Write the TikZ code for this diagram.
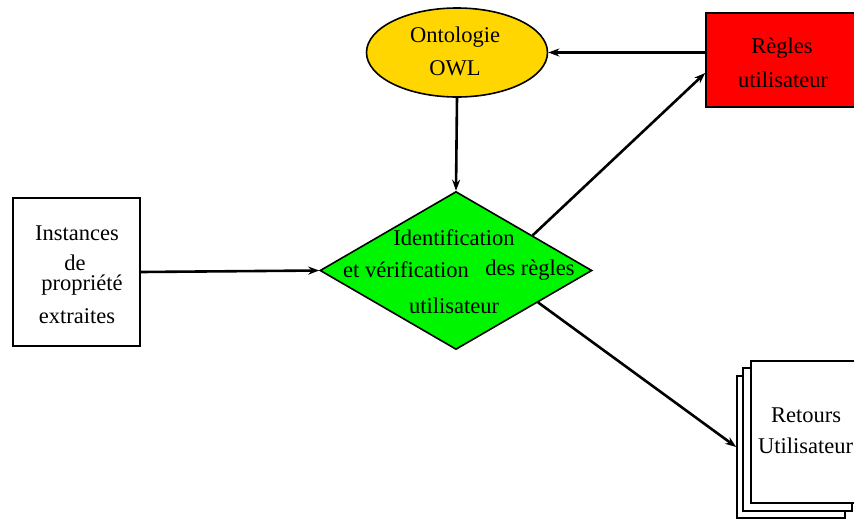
\documentclass[tikz,border=0pt]{standalone}
\usepackage{fontspec}
\setmainfont{Liberation Serif}
\usetikzlibrary{shapes.geometric,arrows.meta,calc}
\definecolor{owlgold}{RGB}{255,214,0}
\definecolor{ruleRed}{RGB}{255,0,0}
\definecolor{diamGreen}{RGB}{0,245,0}
\begin{document}
\begin{tikzpicture}[x=1pt,y=-1pt,
  txt/.style={font=\fontsize{22.5}{26}\selectfont, inner sep=0pt, anchor=base},
  border/.style={draw=black, line width=1.6pt},
  box/.style={border, rectangle, inner sep=0pt},
  arr/.style={line width=2.6pt, -{Stealth[length=11pt,width=8pt]}}]
\useasboundingbox (0,0) rectangle (854,520);
% shapes
\node[border, ellipse, fill=owlgold, minimum width=181pt, minimum height=89pt, inner sep=0pt] (owl) at (457,52.5) {};
\node[box, fill=ruleRed, minimum width=150pt, minimum height=94pt] (regles) at (781,60) {};
\node[box, fill=white, minimum width=127pt, minimum height=148pt] (inst) at (76.5,272) {};
\node[border, diamond, fill=diamGreen, aspect=1.72, minimum width=272pt, minimum height=158pt, inner sep=0pt] (diam) at (456,270.5) {};
\node[box, fill=white, minimum width=108pt, minimum height=142pt] (docback) at (791,447) {};
\node[box, fill=white, minimum width=109pt, minimum height=143pt] (docmid) at (797.5,439.5) {};
\node[box, fill=white, minimum width=111pt, minimum height=142pt] (docfront) at (806.5,432) {};
% texts
\node[txt] (t1) at (455,42) {Ontologie};
\node[txt] (t2) at (455,75) {OWL};
\node[txt] (t3) at (782,53) {Règles};
\node[txt] (t4) at (783,87) {utilisateur};
\node[txt] (t5) at (77,240) {Instances};
\node[txt] (t6) at (75,270) {de};
\node[txt] (t7) at (82,290) {propriété};
\node[txt] (t8) at (77,323) {extraites};
\node[txt] (t9) at (454,245) {Identification};
\node[txt] (t10) at (406,277) {et vérification};
\node[txt] (t11) at (530,275) {des règles};
\node[txt] (t12) at (454,313) {utilisateur};
\node[txt] (t13) at (806,422) {Retours};
\node[txt] (t14) at (805.5,453) {Utilisateur};
% connectors
\draw[arr] (owl.south) -- (diam.north);
\draw[arr] (inst.east) -- (diam.west);
\draw[arr] (regles.west |- owl.east) -- (owl.east);
\draw[arr] ($(diam.east)!0.44!(diam.north)$) -- ([yshift=-13pt]regles.west);
\draw[arr] ($(diam.east)!0.4!(diam.south)$) -- (docback.west);
\end{tikzpicture}
\end{document}
